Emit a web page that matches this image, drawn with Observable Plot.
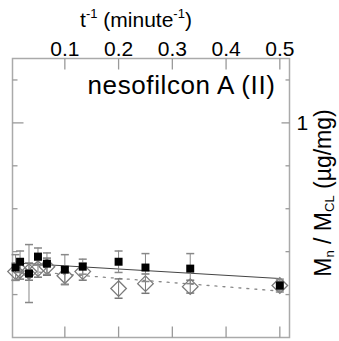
<!DOCTYPE html>
<html><head><meta charset="utf-8">
<script src="https://cdn.jsdelivr.net/npm/d3@7"></script>
<script src="https://cdn.jsdelivr.net/npm/@observablehq/plot@0.6"></script>
<style>body{margin:0;background:#fff} svg{display:block}</style>
</head><body><div id="chart"></div>
<script>
// inverse time (minute^-1)
const invT = [0.0083, 0.0167, 0.0333, 0.05, 0.0667, 0.1, 0.1333, 0.2, 0.25, 0.3333, 0.5];
// filled squares
const filledMean = [0.326, 0.353, 0.298, 0.377, 0.344, 0.316, 0.330, 0.353, 0.326, 0.321, 0.242];
const filledErr  = [0.060, 0.050, 0.135, 0.040, 0.050, 0.070, 0.035, 0.050, 0.065, 0.070, 0.030];
// open diamonds
const openMean = [0.307, 0.312, 0.307, 0.321, 0.330, 0.288, 0.307, 0.228, 0.251, 0.237, 0.242];
const openErr  = [0.040, 0.040, 0.040, 0.040, 0.040, 0.040, 0.040, 0.045, 0.045, 0.030, 0.020];
// axes
const xTicks = [0.1, 0.2, 0.3, 0.4, 0.5];
const yTicksMinor = [0.2, 0.4, 0.6, 0.8, 1.2];
const yTicksMajor = [1];
const yTickLabels = [1];
const panelTitle = "nesofilcon A (II)";

const filled = invT.map((x, i) => ({x, y: filledMean[i], e: filledErr[i]}));
const open = invT.map((x, i) => ({x, y: openMean[i], e: openErr[i]}));

const cap = (w) => ({draw(c) { c.moveTo(-w / 2, 0); c.lineTo(w / 2, 0); }});
const hTick = (len) => ({draw(c) { c.moveTo(0, 0); c.lineTo(len, 0); }});
const vTick = (len) => ({draw(c) { c.moveTo(0, 0); c.lineTo(0, len); }});

const tickColor = "#9a9a9a";

const svg = Plot.plot({
  width: 339,
  height: 341,
  marginTop: 58,
  marginBottom: 4,
  marginLeft: 12,
  marginRight: 50,
  style: {fontFamily: "'Liberation Sans', Arial, sans-serif", color: "black", background: "white"},
  x: {domain: [0.0026, 0.518]},
  y: {domain: [0, 1.3]},
  marks: [
    Plot.frame({stroke: "#aaa", strokeWidth: 1.5}),
    Plot.axisX({anchor: "top", ticks: xTicks, tickSize: 0, tickPadding: 3, fontSize: 21, label: null, tickFormat: d3.format(".1f")}),
    Plot.axisY({anchor: "right", ticks: yTickLabels, tickSize: 0, tickPadding: 7, fontSize: 21, label: null, tickFormat: d => String(d)}),
    Plot.dot(xTicks, {x: d => d, frameAnchor: "top", symbol: vTick(11), stroke: tickColor, strokeWidth: 1.3, fill: "none"}),
    Plot.dot(xTicks, {x: d => d, frameAnchor: "bottom", symbol: vTick(-11), stroke: tickColor, strokeWidth: 1.3, fill: "none"}),
    Plot.dot(yTicksMinor, {y: d => d, frameAnchor: "left", symbol: hTick(5), stroke: tickColor, strokeWidth: 1.3, fill: "none"}),
    Plot.dot(yTicksMajor, {y: d => d, frameAnchor: "left", symbol: hTick(11), stroke: tickColor, strokeWidth: 1.3, fill: "none"}),
    Plot.dot(yTicksMinor, {y: d => d, frameAnchor: "right", symbol: hTick(-4), stroke: tickColor, strokeWidth: 1.3, fill: "none"}),
    Plot.dot(yTicksMajor, {y: d => d, frameAnchor: "right", symbol: hTick(-8), stroke: tickColor, strokeWidth: 1.3, fill: "none"}),
    Plot.text([panelTitle], {frameAnchor: "top-right", dx: -14, dy: 35, lineAnchor: "bottom", textAnchor: "end", fontSize: 26, fill: "black"}),
    // regression lines
    Plot.linearRegressionY(open, {x: "x", y: "y", ci: 0, stroke: "#888", strokeWidth: 1.3, strokeDasharray: "2,6"}),
    Plot.linearRegressionY(filled, {x: "x", y: "y", ci: 0, stroke: "#444", strokeWidth: 1}),
    // open diamonds with error bars
    Plot.ruleX(open, {x: "x", y1: d => d.y - d.e, y2: d => d.y + d.e, stroke: "#777", strokeWidth: 1}),
    Plot.dot(open, {x: "x", y: d => d.y - d.e, symbol: cap(8), stroke: "#777", fill: "none"}),
    Plot.dot(open, {x: "x", y: d => d.y + d.e, symbol: cap(8), stroke: "#777", fill: "none"}),
    Plot.dot(open, {x: "x", y: "y", symbol: "diamond2", r: 7, stroke: "#7a7a7a", strokeWidth: 1.3, fill: "none"}),
    // filled squares with error bars
    Plot.ruleX(filled, {x: "x", y1: d => d.y - d.e, y2: d => d.y + d.e, stroke: "#888", strokeWidth: 1}),
    Plot.dot(filled, {x: "x", y: d => d.y - d.e, symbol: cap(8), stroke: "#888", fill: "none"}),
    Plot.dot(filled, {x: "x", y: d => d.y + d.e, symbol: cap(8), stroke: "#888", fill: "none"}),
    Plot.dot(filled, {x: "x", y: "y", symbol: "square", r: 4.5, fill: "black", stroke: "none"})
  ]
});

const s = d3.select(svg);
// widen the panel title slightly, as in the reference
s.selectAll("text").filter(function() { return this.textContent === panelTitle; })
  .style("letter-spacing", "0.6px");

// x-axis label with superscripts
const xl = s.append("text")
  .attr("x", 136).attr("y", 27)
  .attr("text-anchor", "middle")
  .attr("font-size", 21)
  .attr("fill", "black");
xl.append("tspan").text("t");
xl.append("tspan").attr("font-size", 13).attr("dy", -9).text("-1");
xl.append("tspan").attr("dy", 9).text(" (minute");
xl.append("tspan").attr("font-size", 13).attr("dy", -9).text("-1");
xl.append("tspan").attr("dy", 9).text(")");

// y-axis label rotated, with subscripts
const yl = s.append("text")
  .attr("transform", "translate(331,193) rotate(-90)")
  .attr("text-anchor", "middle")
  .attr("font-size", 23)
  .attr("fill", "black");
yl.append("tspan").text("M");
yl.append("tspan").attr("font-size", 13).attr("dy", 3).text("n");
yl.append("tspan").attr("dy", -3).text(" / M");
yl.append("tspan").attr("font-size", 13).attr("dy", 3).text("CL");
yl.append("tspan").attr("dy", -3).text(" (µg/mg)");

document.getElementById("chart").appendChild(svg);
</script>
</body></html>
